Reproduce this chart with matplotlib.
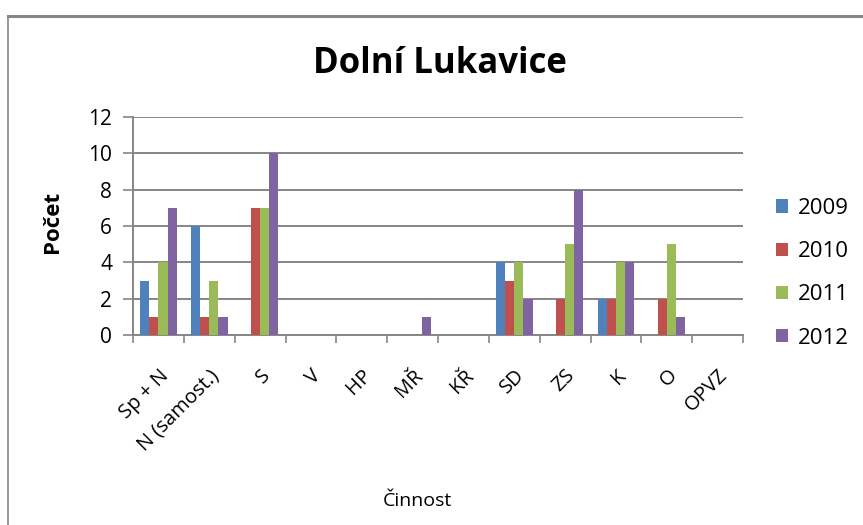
import matplotlib.pyplot as plt
import numpy as np
from matplotlib.lines import Line2D

plt.rcParams['font.family'] = ['Open Sans', 'DejaVu Sans']

categories = ['Sp + N', 'N (samost.)', 'S', 'V', 'HP', 'MŘ', 'KŘ', 'SD', 'ZS', 'K', 'O', 'OPVZ']
years = ['2009', '2010', '2011', '2012']
v2009 = [3, 6, 0, 0, 0, 0, 0, 4, 0, 2, 0, 0]
v2010 = [1, 1, 7, 0, 0, 0, 0, 3, 2, 2, 2, 0]
v2011 = [4, 3, 7, 0, 0, 0, 0, 4, 5, 4, 5, 0]
v2012 = [7, 1, 10, 0, 0, 1, 0, 2, 8, 4, 1, 0]
series = [v2009, v2010, v2011, v2012]
colors = ['#4f81bd', '#c0504d', '#9bbb59', '#8064a2']
gray = '#868686'

W, H = 863, 525
fig = plt.figure(figsize=(W / 100, H / 100), dpi=100)
# chart frame: only top and left edges visible
fig.lines.append(Line2D([8 / W, 8 / W], [0, 1 - 16 / H], transform=fig.transFigure,
                        color=gray, linewidth=1.2))
fig.lines.append(Line2D([8 / W, 1], [1 - 16 / H, 1 - 16 / H], transform=fig.transFigure,
                        color=gray, linewidth=2.2))

ax = fig.add_axes([133 / W, 1 - 335 / H, (743 - 133) / W, (335 - 117) / H])

x = np.arange(len(categories))
w = 0.18
for k, (vals, c, lab) in enumerate(zip(series, colors, years)):
    ax.bar(x + (k - 1.5) * w, vals, width=w, color=c, label=lab, zorder=3)

ax.set_xlim(-0.5, len(categories) - 0.5)
ax.set_ylim(0, 12)
ax.set_yticks(range(0, 13, 2))
ax.yaxis.grid(True, color=gray, linewidth=1.4, zorder=0)
ax.set_xticks(np.arange(-0.5, len(categories), 1))
ax.set_xticklabels([])
ax.set_xticks(x, minor=True)
ax.set_xticklabels(categories, minor=True, rotation=45, ha='right', va='top',
                   rotation_mode='anchor', fontsize=14.5)
ax.tick_params(axis='x', which='major', length=6, color=gray, width=1.2)
ax.tick_params(axis='x', which='minor', length=0, pad=22)
ax.tick_params(axis='y', length=7, color=gray, width=1.2, labelsize=15, pad=8)
for s in ['top', 'right']:
    ax.spines[s].set_visible(False)
for s in ['left', 'bottom']:
    ax.spines[s].set_color(gray)
    ax.spines[s].set_linewidth(1.4)

ax.set_ylabel('Počet', fontsize=16, fontweight='bold')
ax.yaxis.set_label_coords(-70 / 610, 0.52)
ax.set_xlabel('Činnost', fontsize=14)
ax.xaxis.set_label_coords(0.467, -(492 - 335) / 218)
fig.text(440 / W, 1 - 64 / H, 'Dolní Lukavice', ha='center', va='center', fontsize=25, fontweight='bold')

ax.legend(loc='upper left', bbox_to_anchor=(767 / W, 1 - 189 / H), bbox_transform=fig.transFigure,
          frameon=False, fontsize=16, handlelength=0.55, handleheight=0.55,
          labelspacing=1.0, handletextpad=0.45, borderaxespad=0)

fig.savefig('out.png', dpi=100)
